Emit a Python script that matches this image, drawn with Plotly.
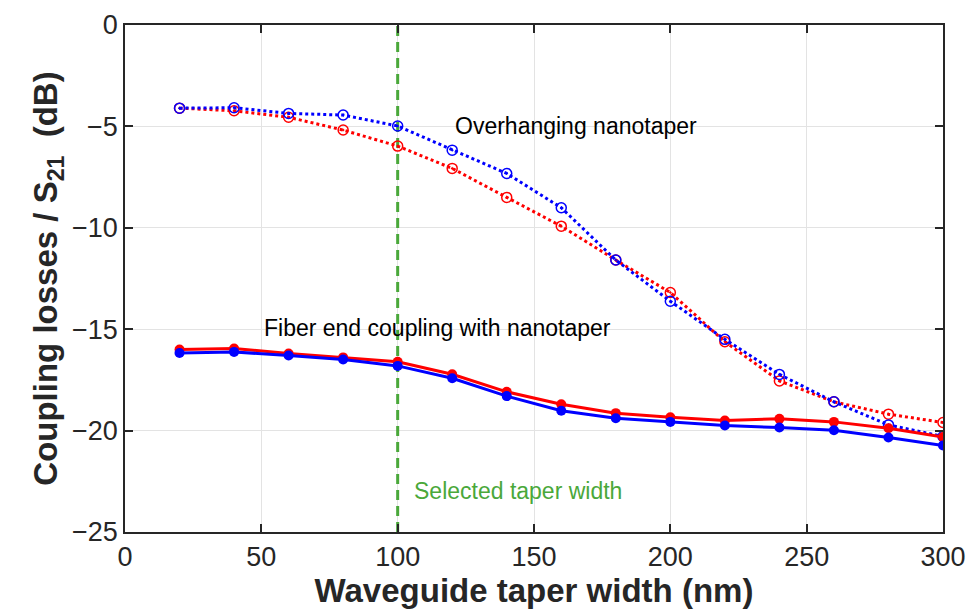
import plotly.graph_objects as go

width_nm = [20, 40, 60, 80, 100, 120, 140, 160, 180, 200, 220, 240, 260, 280, 300]

overhang_blue = [-4.1, -4.08, -4.36, -4.44, -4.98, -6.17, -7.32, -9.01, -11.59, -13.62, -15.5, -17.23, -18.58, -19.72, -20.29]
overhang_red = [-4.1, -4.23, -4.55, -5.18, -5.97, -7.07, -8.5, -9.92, -11.59, -13.19, -15.62, -17.55, -18.58, -19.19, -19.6]
fiber_red = [-16.0, -15.95, -16.2, -16.39, -16.61, -17.22, -18.09, -18.7, -19.14, -19.34, -19.5, -19.42, -19.57, -19.88, -20.32]
fiber_blue = [-16.17, -16.12, -16.3, -16.49, -16.81, -17.42, -18.3, -19.02, -19.39, -19.57, -19.75, -19.85, -19.98, -20.34, -20.73]

selected_width = 100

x_ticks = [0, 50, 100, 150, 200, 250, 300]
y_ticks = [0, -5, -10, -15, -20, -25]

BLUE = "#0000ff"
RED = "#ff0000"
GREEN = "#4aa83a"
FONT = "Liberation Sans, Arial, Helvetica, sans-serif"

fig = go.Figure()

fig.add_trace(go.Scatter(
    x=width_nm, y=overhang_red, mode="lines+markers",
    line=dict(color=RED, width=3, dash="dot"),
    marker=dict(symbol="circle-open-dot", size=10, color=RED, line=dict(width=1.5, color=RED)),
    showlegend=False))
fig.add_trace(go.Scatter(
    x=width_nm, y=overhang_blue, mode="lines+markers",
    line=dict(color=BLUE, width=3, dash="dot"),
    marker=dict(symbol="circle-open-dot", size=10, color=BLUE, line=dict(width=1.5, color=BLUE)),
    showlegend=False))
fig.add_trace(go.Scatter(
    x=width_nm, y=fiber_red, mode="lines+markers",
    line=dict(color=RED, width=3),
    marker=dict(symbol="circle", size=10, color=RED),
    showlegend=False))
fig.add_trace(go.Scatter(
    x=width_nm, y=fiber_blue, mode="lines+markers",
    line=dict(color=BLUE, width=3),
    marker=dict(symbol="circle", size=10, color=BLUE),
    showlegend=False))

fig.add_shape(type="line", xref="x", yref="y",
              x0=selected_width, x1=selected_width, y0=-25, y1=0,
              line=dict(color=GREEN, width=3, dash="10px,6px"), layer="between")

txt_font = dict(family=FONT, size=23, color="black")
fig.add_annotation(x=120.3, y=-5.0, text="Overhanging nanotaper", showarrow=False,
                   xanchor="left", yanchor="middle", font=txt_font)
fig.add_annotation(x=50.2, y=-14.94, text="Fiber end coupling with nanotaper", showarrow=False,
                   xanchor="left", yanchor="middle", font=txt_font)
fig.add_annotation(x=105.2, y=-23.0, text="Selected taper width", showarrow=False,
                   xanchor="left", yanchor="middle",
                   font=dict(family=FONT, size=23, color=GREEN))

axis_common = dict(
    showline=True, linecolor="#262626", linewidth=1.5, mirror="ticks",
    ticks="inside", ticklen=8, tickwidth=1.5, tickcolor="#262626",
    showgrid=True, gridcolor="#e3e3e3", gridwidth=1.2, zeroline=False,
    tickfont=dict(family=FONT, size=27, color="#262626"),
)

fig.update_xaxes(range=[0, 300], tickvals=x_ticks,
                 title=dict(text="<b>Waveguide taper width (nm)</b>", standoff=4,
                            font=dict(family=FONT, size=33, color="#262626")),
                 **axis_common)
fig.update_yaxes(range=[-25, 0], tickvals=y_ticks,
                 title=dict(text="<b>Coupling losses / S<sub>21</sub>&nbsp; (dB)</b>", standoff=4,
                            font=dict(family=FONT, size=33, color="#262626")),
                 **axis_common)

fig.update_layout(
    width=968, height=607,
    margin=dict(l=117, r=33, t=17, b=83, autoexpand=False),
    plot_bgcolor="white", paper_bgcolor="white",
)

fig.write_html("out.html")
